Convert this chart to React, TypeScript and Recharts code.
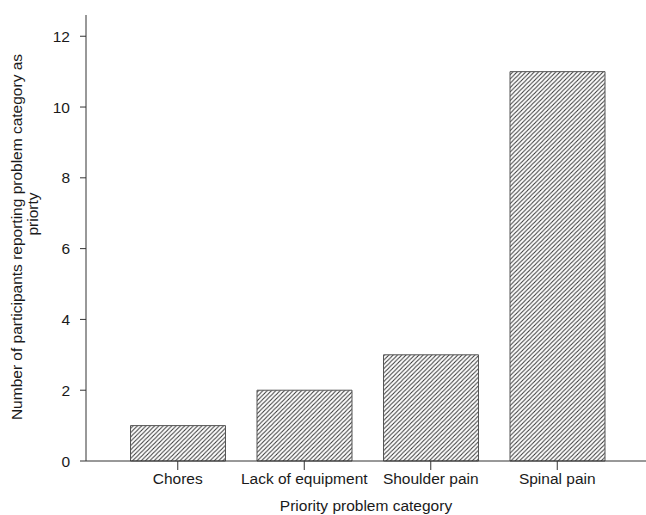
import { BarChart, Bar, XAxis, YAxis } from "recharts"

const categories = ["Chores", "Lack of equipment", "Shoulder pain", "Spinal pain"]
const counts = [1, 2, 3, 11]
const yTicks = [0, 2, 4, 6, 8, 10, 12]

const data = categories.map((name, i) => ({ name, count: counts[i] }))

const font = "'Liberation Sans', Arial, sans-serif"

function YLabel() {
  return (
    <g fontFamily={font} fontSize={15.5} fill="#1a1a1a">
      <text x={22} y={237} transform="rotate(-90 22 237)" textAnchor="middle">
        Number of participants reporting problem category as
      </text>
      <text x={37.5} y={214} transform="rotate(-90 37.5 214)" textAnchor="middle">
        priorty
      </text>
    </g>
  )
}

function XLabel() {
  return (
    <text x={366} y={511} textAnchor="middle" fontFamily={font} fontSize={15.5} fill="#1a1a1a">
      Priority problem category
    </text>
  )
}

export default function App() {
  return (
    <div style={{ position: "absolute", left: 0, top: 0, background: "#fff" }}>
      <BarChart
        width={646}
        height={515}
        data={data}
        margin={{ top: 15, right: 0, bottom: 14, left: 26 }}
      >
        <defs>
          {/* forward-slash hatch */}
          <pattern id="hatch" patternUnits="userSpaceOnUse" width={4.3} height={4.3}>
            <rect width={4.3} height={4.3} fill="#fff" />
            <path d="M0,4.3 L4.3,0 M-1,1 L1,-1 M3.3,5.3 L5.3,3.3" stroke="#333" strokeWidth={1} />
          </pattern>
        </defs>
        <XAxis
          dataKey="name"
          height={40}
          padding={{ left: 28.5, right: 25.5 }}
          tickSize={9}
          tickMargin={3}
          stroke="#333"
          tick={{ fill: "#1a1a1a", fontSize: 15.5, fontFamily: font }}
          interval={0}
          label={<XLabel />}
        />
        <YAxis
          width={60}
          domain={[0, 12.6]}
          ticks={yTicks}
          tickSize={6}
          tickMargin={10}
          stroke="#333"
          tick={{ fill: "#1a1a1a", fontSize: 15.5, fontFamily: font }}
          label={<YLabel />}
        />
        <Bar
          dataKey="count"
          barSize={95}
          fill="url(#hatch)"
          stroke="#555"
          strokeWidth={1}
          isAnimationActive={false}
        />
      </BarChart>
    </div>
  )
}
